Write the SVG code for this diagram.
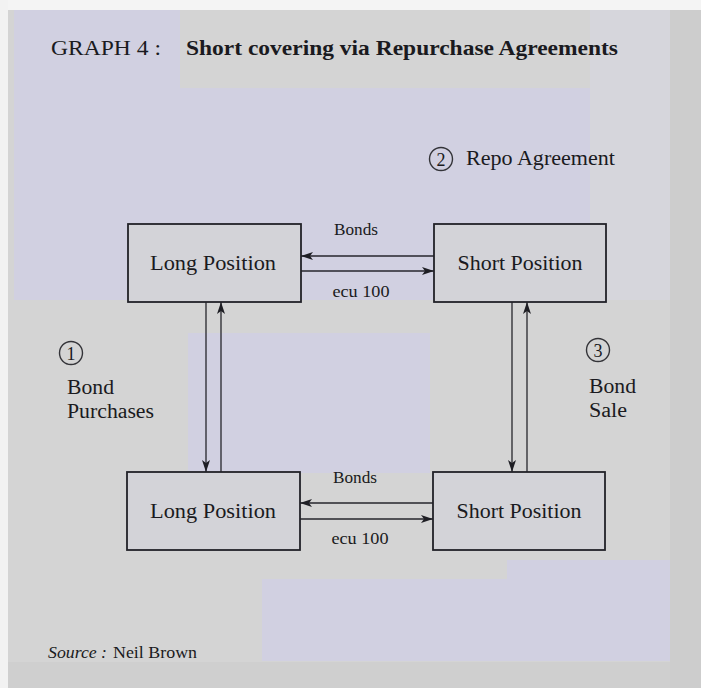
<svg xmlns="http://www.w3.org/2000/svg" width="701" height="688" viewBox="0 0 701 688">
<defs>
<marker id="ah" viewBox="0 0 12 8" refX="12" refY="4" markerWidth="12" markerHeight="8" markerUnits="userSpaceOnUse" orient="auto">
<path d="M0,0 L12,4 L0,8 L3,4 Z" fill="#1e1e24"/>
</marker>
</defs>
<style>
.bg{fill:#d4d4d4}
.lav{fill:#d1d0e1}
.box{fill:#d3d3d8;stroke:#222228;stroke-width:1.8}
.lbl{font-family:"Liberation Serif","Times New Roman",serif;fill:#1a1a20}
.big{font-size:21px}
.mid{font-size:20px}
.sm{font-size:16.5px}
.num{font-size:18px}
.con{stroke:#26262c;stroke-width:1.3;fill:none;marker-end:url(#ah)}
.circ{fill:none;stroke:#333338;stroke-width:1.4}
</style>
<rect class="bg" x="0" y="0" width="701" height="688"/>
<rect x="0" y="0" width="701" height="10" fill="#f4f4f4"/>
<rect x="0" y="0" width="8" height="688" fill="#f2f2f2"/>
<rect class="lav" x="14" y="10" width="166" height="78"/>
<rect class="lav" x="14" y="88" width="576" height="212"/>
<rect class="lav" x="188" y="333" width="242" height="140"/>
<rect class="lav" x="262" y="579" width="408" height="82"/>
<rect class="lav" x="507" y="560" width="163" height="19"/>
<rect x="590" y="10" width="80" height="290" fill="#d6d6dc"/>
<rect x="670" y="10" width="31" height="678" fill="#cdcdcd"/>
<rect x="8" y="662" width="662" height="26" fill="#cfcfcf"/>

<g id="title">
<text class="lbl" x="51" y="55" font-size="22" textLength="110" lengthAdjust="spacingAndGlyphs">GRAPH 4 :</text>
<text class="lbl" x="186" y="55" font-size="22" font-weight="bold" textLength="432" lengthAdjust="spacingAndGlyphs">Short covering via Repurchase Agreements</text>
</g>

<g id="connectors">
<line class="con" x1="434" y1="256" x2="301" y2="256"/>
<line class="con" x1="301" y1="271" x2="434" y2="271"/>
<line class="con" x1="433" y1="503" x2="300" y2="503"/>
<line class="con" x1="300" y1="519" x2="433" y2="519"/>
<line class="con" x1="206" y1="302" x2="206" y2="472"/>
<line class="con" x1="221" y1="472" x2="221" y2="302"/>
<line class="con" x1="512" y1="302" x2="512" y2="472"/>
<line class="con" x1="527" y1="472" x2="527" y2="302"/>
</g>

<g id="connector-labels">
<text class="lbl sm" x="356" y="235" text-anchor="middle" textLength="44" lengthAdjust="spacingAndGlyphs">Bonds</text>
<text class="lbl sm" x="361" y="297" text-anchor="middle" textLength="57" lengthAdjust="spacingAndGlyphs">ecu 100</text>
<text class="lbl sm" x="355" y="483" text-anchor="middle" textLength="44" lengthAdjust="spacingAndGlyphs">Bonds</text>
<text class="lbl sm" x="360" y="544" text-anchor="middle" textLength="57" lengthAdjust="spacingAndGlyphs">ecu 100</text>
</g>

<g id="long-top">
<rect class="box" x="128" y="224" width="173" height="78"/>
<text class="lbl big" x="213" y="270" text-anchor="middle" textLength="126" lengthAdjust="spacingAndGlyphs">Long Position</text>
</g>
<g id="short-top">
<rect class="box" x="434" y="224" width="172" height="78"/>
<text class="lbl big" x="520" y="270" text-anchor="middle" textLength="125" lengthAdjust="spacingAndGlyphs">Short Position</text>
</g>
<g id="long-bottom">
<rect class="box" x="127" y="472" width="173" height="78"/>
<text class="lbl big" x="213" y="518" text-anchor="middle" textLength="126" lengthAdjust="spacingAndGlyphs">Long Position</text>
</g>
<g id="short-bottom">
<rect class="box" x="433" y="472" width="172" height="78"/>
<text class="lbl big" x="519" y="518" text-anchor="middle" textLength="125" lengthAdjust="spacingAndGlyphs">Short Position</text>
</g>

<g id="step1">
<circle class="circ" cx="71" cy="353" r="11.5"/>
<text class="lbl num" x="71" y="359.5" text-anchor="middle">1</text>
<text class="lbl mid" x="67" y="394" textLength="47" lengthAdjust="spacingAndGlyphs">Bond</text>
<text class="lbl mid" x="67" y="418" textLength="87" lengthAdjust="spacingAndGlyphs">Purchases</text>
</g>
<g id="step2">
<circle class="circ" cx="441" cy="159" r="11.5"/>
<text class="lbl num" x="441" y="165.5" text-anchor="middle">2</text>
<text class="lbl mid" x="466" y="165" textLength="149" lengthAdjust="spacingAndGlyphs">Repo Agreement</text>
</g>
<g id="step3">
<circle class="circ" cx="598" cy="350" r="11.5"/>
<text class="lbl num" x="598" y="356.5" text-anchor="middle">3</text>
<text class="lbl mid" x="589" y="393" textLength="47" lengthAdjust="spacingAndGlyphs">Bond</text>
<text class="lbl mid" x="589" y="417" textLength="38" lengthAdjust="spacingAndGlyphs">Sale</text>
</g>

<g id="source">
<text class="lbl" x="48" y="658" font-size="17" font-style="italic" textLength="59" lengthAdjust="spacingAndGlyphs">Source :</text>
<text class="lbl" x="113" y="658" font-size="17" textLength="84" lengthAdjust="spacingAndGlyphs">Neil Brown</text>
</g>
</svg>
